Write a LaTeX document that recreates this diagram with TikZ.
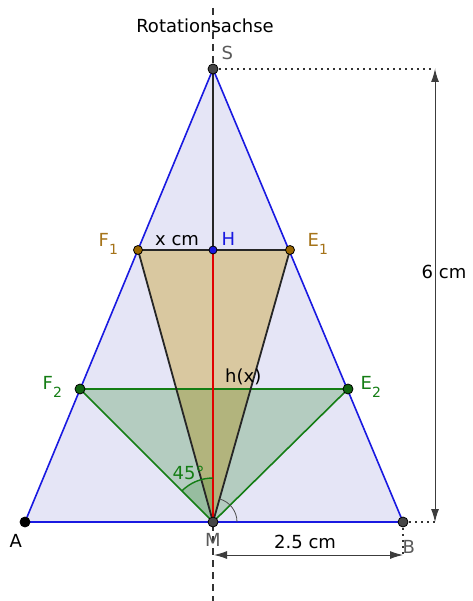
\documentclass[tikz,border=0pt]{standalone}
\usepackage{fontspec}
\setmainfont{DejaVu Sans}
\usetikzlibrary{arrows.meta}
\definecolor{lav}{RGB}{229,229,246}
\definecolor{tanf}{RGB}{217,200,160}
\definecolor{grf}{RGB}{180,204,192}
\definecolor{ovl}{RGB}{178,180,125}
\definecolor{bl}{RGB}{25,25,225}
\definecolor{gline}{RGB}{20,125,20}
\definecolor{brn}{RGB}{153,102,0}
\definecolor{brnlab}{RGB}{165,115,25}
\definecolor{ptgray}{RGB}{70,70,70}
\definecolor{labgray}{RGB}{90,90,90}
\definecolor{dimgray}{RGB}{60,60,60}
\definecolor{redl}{RGB}{225,0,0}
\newcommand{\lsub}[1]{\raisebox{-8pt}{\fontsize{14}{14}\selectfont #1}}
\begin{document}
\begin{tikzpicture}[x=1pt,y=-1pt,
  every node/.style={inner sep=0pt, font=\fontsize{18}{20}\selectfont},
  lab/.style={anchor=base west},
  pt/.style={circle, draw=black, line width=0.8pt, minimum size=10pt, inner sep=0pt},
  side/.style={draw=bl, line width=1.6pt},
  gedge/.style={draw=gline, line width=1.6pt},
  bedge/.style={draw=black!85, line width=1.8pt},
  dimline/.style={draw=dimgray, line width=1pt, {Latex[length=13pt,width=8pt]}-{Latex[length=13pt,width=8pt]}},
  dotline/.style={draw=black!80, line width=1.6pt, dash pattern=on 1.6pt off 4.4pt},
  axis/.style={draw=black!80, line width=1.3pt, dash pattern=on 7pt off 5pt}
]
\useasboundingbox (0,0) rectangle (472,601);
% geometry
\coordinate (S) at (213,69);
\coordinate (A) at (25,522);
\coordinate (B) at (403,522);
\coordinate (M) at (213,522);
\coordinate (H) at (213,250);
\coordinate (F1) at (138,250);
\coordinate (E1) at (290,250);
\coordinate (F2) at (80,389);
\coordinate (E2) at (348,389);
\coordinate (O1) at (176.3,389);
\coordinate (O2) at (250.6,389);
\coordinate (Ax1) at (213,8);
\coordinate (Ax2) at (213,601);
\coordinate (Dt) at (435,69);
\coordinate (Db) at (435,522);
\coordinate (Bd) at (403,555);
\coordinate (Mh) at (214,555);
\coordinate (Bh) at (403,555);
% fills
\fill[lav] (A) -- (B) -- (S) -- cycle;
\fill[grf] (F2) -- (E2) -- (M) -- cycle;
\fill[tanf] (F1) -- (E1) -- (M) -- cycle;
\fill[ovl] (O1) -- (O2) -- (M) -- cycle;
\fill[gline, opacity=0.18] (M) -- ++(90:44pt) arc[start angle=90, end angle=135, radius=44pt] -- cycle;
% axis
\draw[axis] (Ax1) -- (Ax2);
% edges
\draw[side] (A) -- (B) -- (S) -- cycle;
\draw[gedge] (F2) -- (E2) -- (M) -- cycle;
\draw[bedge] (F1) -- (E1);
\draw[bedge] (F1) -- (M);
\draw[bedge] (E1) -- (M);
\draw[bedge] (S) -- (H);
\draw[draw=redl, line width=2.4pt] (H) -- (M);
% angles
\draw[gline, line width=1.4pt] (M) ++(90:44pt) arc[start angle=90, end angle=135, radius=44pt];
\draw[black!70, line width=0.8pt] (M) ++(0:24pt) arc[start angle=0, end angle=74, radius=24pt];
% dotted helpers
\draw[dotline] (S) -- (Dt);
\draw[dotline] (B) -- (Db);
\draw[dotline] (B) -- (Bd);
% dimensions
\draw[dimline] (Dt) -- (Db);
\draw[dimline] (Mh) -- (Bh);
% points
\node[pt, fill=ptgray] (pS) at (S) {};
\node[pt, fill=black] (pA) at (A) {};
\node[pt, fill=ptgray] (pB) at (B) {};
\node[pt, fill=ptgray] (pM) at (M) {};
\node[pt, fill=bl, minimum size=8pt] (pH) at (H) {};
\node[pt, fill=brn, minimum size=9pt] (pF1) at (F1) {};
\node[pt, fill=brn, minimum size=9pt] (pE1) at (E1) {};
\node[pt, fill=gline!80!black, minimum size=10pt] (pF2) at (F2) {};
\node[pt, fill=gline!80!black, minimum size=10pt] (pE2) at (E2) {};
% labels
\node[anchor=base] (lRot) at (205,33) {Rotationsachse};
\node[lab, text=labgray] (lS) at (221.5,59.5) {S};
\node[lab, text=brnlab] (lF1) at (98.5,247) {F\lsub{1}};
\node[lab, text=brnlab] (lE1) at (307.5,247) {E\lsub{1}};
\node[lab] (lx) at (155,245) {x cm};
\node[lab, text=bl] (lH) at (221.5,245) {H};
\node[lab, text=gline] (lF2) at (42.5,389.5) {F\lsub{2}};
\node[lab, text=gline] (lE2) at (360.5,389.5) {E\lsub{2}};
\node[lab] (lh) at (225,382) {h(x)};
\node[lab, text=gline] (l45) at (172.5,479.5) {45°};
\node[lab] (lA) at (9.5,547.5) {A};
\node[lab, text=labgray] (lM) at (205,546.5) {M};
\node[lab, text=labgray] (lB) at (402.5,553.5) {B};
\node[lab] (l25) at (274,548.5) {2.5 cm};
\node[lab] (l6) at (421.5,278.5) {6 cm};
\end{tikzpicture}
\end{document}
